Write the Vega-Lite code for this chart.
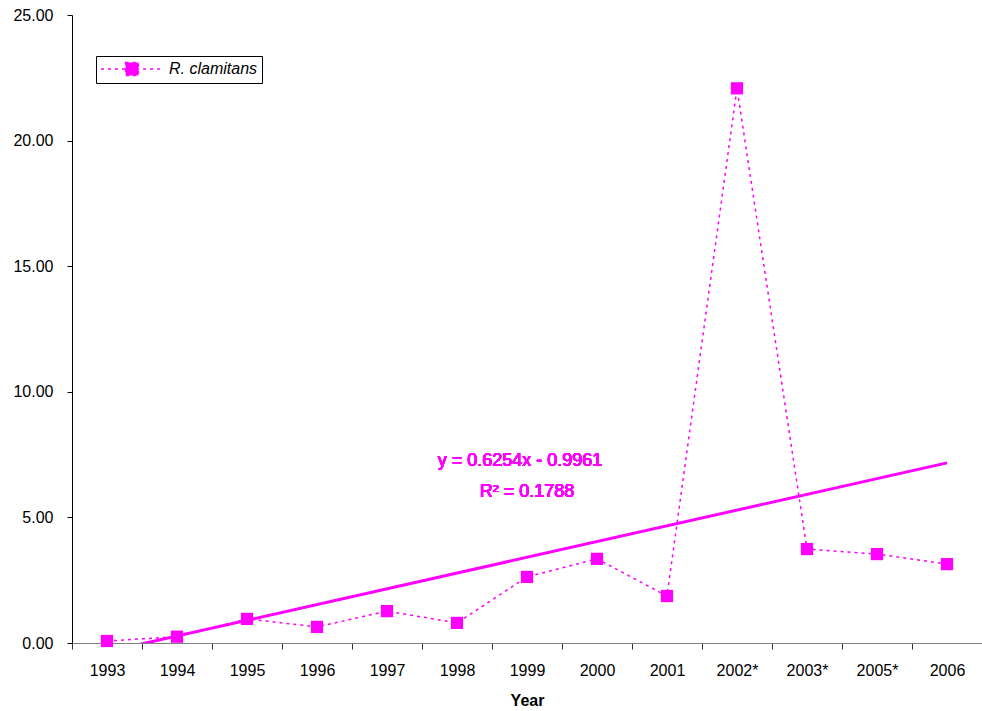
{
  "$schema": "https://vega.github.io/schema/vega-lite/v6.json",
  "autosize": {"type": "none"},
  "width": 910,
  "height": 628,
  "padding": {"left": 72, "top": 15, "right": 0, "bottom": 68},
  "background": "white",
  "config": {
    "font": "Liberation Sans",
    "view": {"stroke": null},
    "axis": {
      "grid": false,
      "labelFont": "Liberation Sans",
      "labelFontSize": 16,
      "labelColor": "black",
      "tickColor": "black",
      "titleFont": "Liberation Sans",
      "titleColor": "black"
    }
  },
  "data": {
    "values": [
      {"year": "1993", "idx": 1, "value": 0.08, "series": "R. clamitans"},
      {"year": "1994", "idx": 2, "value": 0.25, "series": "R. clamitans"},
      {"year": "1995", "idx": 3, "value": 0.96, "series": "R. clamitans"},
      {"year": "1996", "idx": 4, "value": 0.64, "series": "R. clamitans"},
      {"year": "1997", "idx": 5, "value": 1.27, "series": "R. clamitans"},
      {"year": "1998", "idx": 6, "value": 0.80, "series": "R. clamitans"},
      {"year": "1999", "idx": 7, "value": 2.63, "series": "R. clamitans"},
      {"year": "2000", "idx": 8, "value": 3.35, "series": "R. clamitans"},
      {"year": "2001", "idx": 9, "value": 1.87, "series": "R. clamitans"},
      {"year": "2002*", "idx": 10, "value": 22.08, "series": "R. clamitans"},
      {"year": "2003*", "idx": 11, "value": 3.74, "series": "R. clamitans"},
      {"year": "2005*", "idx": 12, "value": 3.54, "series": "R. clamitans"},
      {"year": "2006", "idx": 13, "value": 3.14, "series": "R. clamitans"}
    ]
  },
  "encoding": {
    "x": {
      "field": "idx",
      "type": "quantitative",
      "scale": {"domain": [0.5, 13.5], "nice": false, "zero": false},
      "axis": {
        "title": "Year",
        "titleFontSize": 16,
        "titleFontWeight": "bold",
        "titlePadding": 14,
        "values": [0.5, 1.5, 2.5, 3.5, 4.5, 5.5, 6.5, 7.5, 8.5, 9.5, 10.5, 11.5, 12.5],
        "labelExpr": "['1993','1994','1995','1996','1997','1998','1999','2000','2001','2002*','2003*','2005*','2006'][floor(datum.value)]",
        "labelOffset": 35,
        "labelFlush": false,
        "labelOverlap": false,
        "labelBound": false,
        "labelPadding": 13,
        "tickSize": 6,
        "domainColor": "#808080",
        "tickColor": "#333333"
      }
    },
    "y": {
      "field": "value",
      "type": "quantitative",
      "scale": {"domain": [0, 25], "nice": false},
      "axis": {
        "title": null,
        "values": [0, 5, 10, 15, 20, 25],
        "format": ".2f",
        "tickSize": 5,
        "labelPadding": 14,
        "domainColor": "black"
      }
    }
  },
  "layer": [
    {
      "mark": {"type": "line", "strokeDash": [3, 4], "strokeWidth": 1.5},
      "encoding": {
        "color": {
          "field": "series",
          "type": "nominal",
          "scale": {"range": ["#ff00ff"]},
          "legend": {
            "title": null,
            "orient": "none",
            "legendX": 24,
            "legendY": 41,
            "strokeColor": "black",
            "fillColor": "white",
            "padding": 4,
            "symbolType": "M-3.875,0H3.875M-0.8,-0.8H0.8V0.8H-0.8Z",
            "symbolSize": 256,
            "symbolOffset": 23,
            "symbolFillColor": "#ff00ff",
            "symbolStrokeColor": "#ff00ff",
            "symbolStrokeWidth": 1.5,
            "symbolDash": [3, 4],
            "labelFontSize": 16,
            "labelFontStyle": "italic",
            "labelColor": "black",
            "labelOffset": 28
          }
        }
      }
    },
    {
      "mark": {"type": "point", "shape": "square", "filled": true, "size": 150, "opacity": 1},
      "encoding": {
        "color": {"field": "series", "type": "nominal"}
      }
    },
    {
      "transform": [{"regression": "value", "on": "idx"}],
      "mark": {"type": "line", "strokeWidth": 3, "color": "#ff00ff", "clip": true},
      "encoding": {}
    },
    {
      "mark": {"type": "text", "color": "#ff00ff", "fontSize": 18, "fontWeight": "normal", "align": "center", "baseline": "middle"},
      "encoding": {
        "x": {"datum": 6.9},
        "y": {"datum": 7.26},
        "text": {"value": "y = 0.6254x - 0.9961"}
      }
    },
    {
      "mark": {"type": "text", "color": "#ff00ff", "fontSize": 18, "fontWeight": "normal", "align": "center", "baseline": "middle"},
      "encoding": {
        "x": {"datum": 7.0},
        "y": {"datum": 6.02},
        "text": {"value": "R² = 0.1788"}
      }
    }
  ]
}
